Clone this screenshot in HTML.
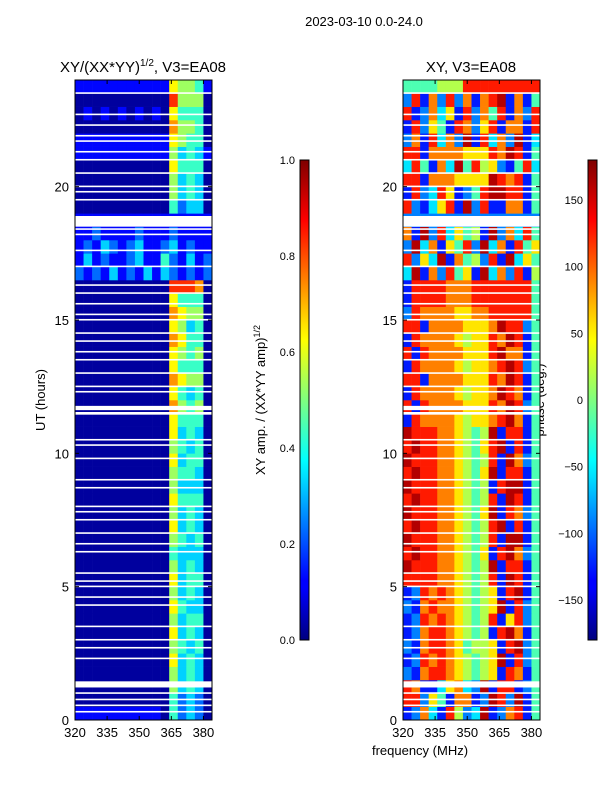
<!DOCTYPE html>
<html><head><meta charset="utf-8"><style>
body{margin:0;background:#fff;}
svg{display:block;font-family:"Liberation Sans",sans-serif;}
</style></head><body>
<svg id="fig" width="600" height="800" xmlns="http://www.w3.org/2000/svg">
<defs>
<linearGradient id="jet" x1="0" y1="1" x2="0" y2="0">
<stop offset="0" stop-color="#00007f"/><stop offset="0.11" stop-color="#0000ff"/><stop offset="0.125" stop-color="#0000ff"/>
<stop offset="0.34" stop-color="#00dfff"/><stop offset="0.375" stop-color="#00ffff"/><stop offset="0.5" stop-color="#7fff7f"/>
<stop offset="0.625" stop-color="#ffff00"/><stop offset="0.66" stop-color="#ffdf00"/><stop offset="0.875" stop-color="#ff0000"/><stop offset="1" stop-color="#7f0000"/>
</linearGradient>
</defs>
<text x="364" y="26" font-size="13" text-anchor="middle">2023-03-10 0.0-24.0</text>
<text x="143" y="72" font-size="15" text-anchor="middle">XY/(XX*YY)<tspan font-size="10" dy="-6">1/2</tspan><tspan dy="6">, V3=EA08</tspan></text>
<text x="471" y="72" font-size="15" text-anchor="middle">XY, V3=EA08</text>
<text transform="translate(45,400) rotate(-90)" font-size="13" text-anchor="middle">UT (hours)</text>
<text transform="translate(265,400) rotate(-90)" font-size="13" text-anchor="middle">XY amp. / (XX*YY amp)<tspan font-size="9" dy="-5">1/2</tspan></text>
<text transform="translate(544,400) rotate(-90)" font-size="13" text-anchor="middle">phase (deg.)</text>
<text x="420" y="755" font-size="13" text-anchor="middle">frequency (MHz)</text>
<g id="amp"></g>
<g id="phs"></g>
<g id="axes"></g>
<rect x="300" y="160" width="9" height="480" fill="url(#jet)" stroke="#000" stroke-width="1"/>
<rect x="588" y="160" width="9" height="480" fill="url(#jet)" stroke="#000" stroke-width="1"/>
</svg>
<script>
const freqStart = 320, freqEnd = 384, utMax = 24;
const ampRows = [
"1111111111042320","0000000000042320","0000000000053430","0000000000053430",
"0000000000063430","0000000000054340","0000000000063430","0000000000053440","0000000000064330","0000000000053430","0000000000063440",
"0000000000053430","0000000000043330","0000000000054340","0000000000063430","0000000000053430","0000000000064440","0000000000053330","0000000000054430","0000000000063440","0000000000054340","0000000000063430",
"0000000000064440","0000000000075450","0000000000064340","0000000000076550","0000000000064440","0000000000065450","0000000000076440","0000000000065340","0000000000076550","0000000000064440",
"0000000000088870","2121312131321212","1312112311421312","1213212311231211","1121111211121111","1111111111111111",
"0000000000042330","0000000000053430","0000000000053430","0000000000064440","1111111111153431","1111111111165440","0000000000075540","0101010101064440","0000000000085550","1111111111165541"];
const phaseRows = [
"1273185239127814","8826417712982914","8711367329188124",
"2178876545618714","1287876545691824","2178876455618924","1278876545189714","1287876545816824","2178776545691824","1287876545618914","8888776545819814",
"9888776545918814","8988776546189724","9888776545819914","8988776545891814","9888776546918724","8988776545819814","9888776545189914","8988776546918814","9888776545819724","8988776546891814","9888776545918814",
"1877776566789714","8187777666879824","1877776566798714","8817777666879814","1877776566789824","8187777666897714","1877776566879814","8817777666798824","2877776677888884","1888877788888884",
"1888877788888884","3917284619372815","8263917452819364","2937164829371846","7192836451927384","2222222222222222",
"8213681928117714","1823861248998814","8817776666987814","3841739485621483","8817777666879814","2718372918372913","1826418726817718","8127361827481728","2817282717891714","4444555888888888"];
const flaggedStart = [0.28,0.52,0.74,0.98,1.22,2.28,2.68,2.98,3.48,4.28,4.58,4.98,5.18,5.48,6.28,6.58,6.98,7.48,7.78,7.98,8.68,8.98,9.78,10.28,10.48,11.45,11.62,12.28,12.48,12.98,13.48,13.78,14.18,14.48,14.98,15.18,15.58,15.98,16.28,16.98,17.58,18.18,18.38,18.5,19.48,19.78,19.98,20.48,20.98,21.28,21.68,21.88,22.28,22.68,23.48];
const flaggedEnd   = [0.34,0.58,0.8,1.04,1.45,2.34,2.74,3.04,3.54,4.34,4.64,5.04,5.24,5.54,6.34,6.64,7.04,7.54,7.84,8.04,8.74,9.04,9.84,10.34,10.54,11.55,11.78,12.34,12.54,13.04,13.54,13.84,14.24,14.54,15.04,15.24,15.64,16.04,16.34,17.04,17.64,18.24,18.44,18.9,19.54,19.84,20.04,20.54,21.04,21.34,21.74,21.94,22.34,22.74,23.54];
const freqTicks = [320,335,350,365,380];
const utTicks = [0,5,10,15,20];
const ampTicks = [0.0,0.2,0.4,0.6,0.8,1.0];
const phaseTicks = [-150,-100,-50,0,50,100,150];

const NS="http://www.w3.org/2000/svg";
function jet(v){v=Math.max(0,Math.min(1,v));const c=t=>Math.round(255*Math.max(0,Math.min(1,1.5-Math.abs(4*v-t))));return `rgb(${c(3)},${c(2)},${c(1)})`;}
function mk(tag,attrs,parent){const e=document.createElementNS(NS,tag);for(const k in attrs)e.setAttribute(k,attrs[k]);parent.appendChild(e);return e;}
const panels=[{g:'amp',x0:75,rows:ampRows,norm:d=>d===0?0.03:(d+0.3)/10},{g:'phs',x0:403,rows:phaseRows,norm:d=>(d+0.5)/10}];
const W=137,Y0=80,H=640;
const yOf=u=>Y0+H-(u/utMax)*H;
panels.forEach((p,pi)=>{
  const xOf=f=>p.x0+(f-freqStart)/(freqEnd-freqStart)*W;
  const g=document.getElementById(p.g);
  p.rows.forEach((row,ri)=>{
    const nc=row.length, df=(freqEnd-freqStart)/nc;
    for(let ci=0;ci<nc;ci++){
      const v=p.norm(+row[ci]);
      const x1=xOf(freqStart+ci*df),x2=xOf(freqStart+(ci+1)*df);
      const y1=yOf((ri+1)*0.5),y2=yOf(ri*0.5);
      const r=mk('rect',{x:x1,y:y1,width:x2-x1+0.3,height:y2-y1+0.3,fill:jet(v)},g);
      
      
    }
  });
  flaggedStart.forEach((s,i)=>{
    const r=mk('rect',{x:p.x0,y:yOf(flaggedEnd[i]),width:W,height:yOf(s)-yOf(flaggedEnd[i]),fill:'#fff'},g);
    
    
  });
  const ax=document.getElementById('axes');
  const fr=mk('rect',{x:p.x0,y:Y0,width:W,height:H,fill:'none',stroke:'#000','stroke-width':1},ax);
  
  
  freqTicks.forEach(f=>{
    const x=xOf(f);
    mk('line',{x1:x,x2:x,y1:Y0+H,y2:Y0+H-4,stroke:'#000'},ax);
    mk('line',{x1:x,x2:x,y1:Y0,y2:Y0+4,stroke:'#000'},ax);
    const t=mk('text',{x:x,y:Y0+H+17,'font-size':13,'text-anchor':'middle'},ax);
    t.textContent=f;
    
    
  });
  utTicks.forEach(u=>{
    const y=yOf(u);
    mk('line',{x1:p.x0,x2:p.x0+4,y1:y,y2:y,stroke:'#000'},ax);
    mk('line',{x1:p.x0+W,x2:p.x0+W-4,y1:y,y2:y,stroke:'#000'},ax);
    const t=mk('text',{x:p.x0-6,y:y+5,'font-size':13,'text-anchor':'end'},ax);
    t.textContent=u;
    
    
  });
});
const ax=document.getElementById('axes');
ampTicks.forEach(v=>{
  const y=640-v*480;
  mk('line',{x1:300,x2:309,y1:y,y2:y,stroke:'#000'},ax);
  const t=mk('text',{x:295,y:y+4,'font-size':11,'text-anchor':'end'},ax);
  t.textContent=v.toFixed(1);
  
  
});
phaseTicks.forEach(v=>{
  const y=400-v*480/360;
  mk('line',{x1:588,x2:597,y1:y,y2:y,stroke:'#000'},ax);
  const t=mk('text',{x:583,y:y+4,'font-size':11,'text-anchor':'end'},ax);
  t.textContent=v<0?'\u2212'+(-v):v;
  
  
});
</script>
</body></html>
